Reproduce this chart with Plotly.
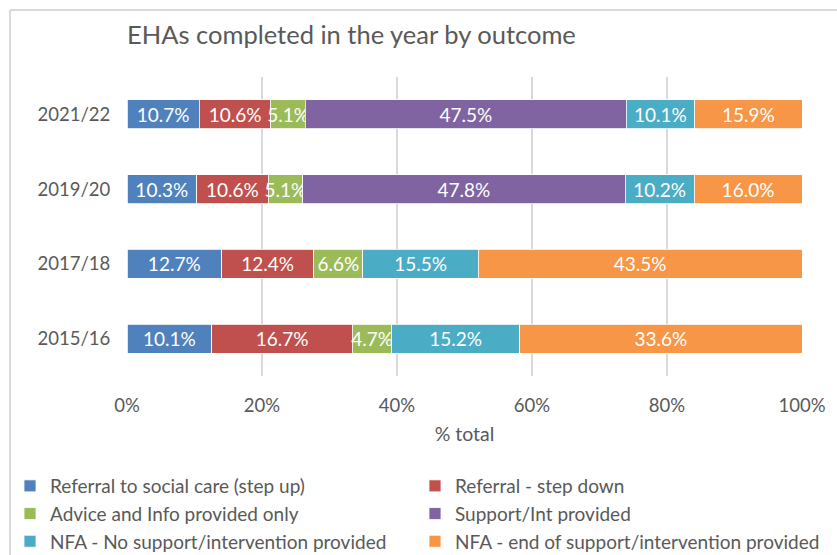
import plotly.graph_objects as go

# Survey years (bottom to top on the chart)
years = ["2015/16", "2017/18", "2019/20", "2021/22"]

# Share of completed EHAs per outcome, in %, one list per outcome (None = not recorded)
referral_social_care = [10.1, 12.7, 10.3, 10.7]
referral_step_down = [16.7, 12.4, 10.6, 10.6]
advice_info_only = [4.7, 6.6, 5.1, 5.1]
support_int_provided = [None, None, 47.8, 47.5]
nfa_no_support = [15.2, 15.5, 10.2, 10.1]
nfa_end_of_support = [33.6, 43.5, 16.0, 15.9]

series_names = [
    "Referral to social care (step up)",
    "Referral - step down",
    "Advice and Info provided only",
    "Support/Int provided",
    "NFA - No support/intervention provided",
    "NFA - end of support/intervention provided",
]
series_values = [
    referral_social_care,
    referral_step_down,
    advice_info_only,
    support_int_provided,
    nfa_no_support,
    nfa_end_of_support,
]
series_colors = ["#4F81BD", "#C0504D", "#9BBB59", "#8064A2", "#4BACC6", "#F79646"]
# left legend column holds the odd entries, right column the even ones
legend_slots = ["legend", "legend2", "legend", "legend2", "legend", "legend2"]

x_ticks = [0, 20, 40, 60, 80, 100]

FONT = "Lato, Roboto, sans-serif"
GREY_TEXT = "#595959"
GRID = "#D9D9D9"

W, H = 837, 555
L, R, T, B = 127, 35, 77, 179
pw, ph = W - L - R, H - T - B


def px_x(p):
    """pixel column -> paper x"""
    return (p - L) / pw


def px_y(p):
    """pixel row -> paper y"""
    return (H - B - p) / ph


fig = go.Figure()
for i, (name, vals, color) in enumerate(zip(series_names, series_values, series_colors)):
    fig.add_trace(
        go.Bar(
            name=name,
            y=years,
            x=vals,
            orientation="h",
            legend=legend_slots[i],
            legendgroup=name,
            marker=dict(color=color, line=dict(color="white", width=0.8)),
            text=[f"{v:.1f}%" if v is not None else "" for v in vals],
            texttemplate="%{text}",
            textposition="inside",
            insidetextanchor="middle",
            textangle=0,
            textfont=dict(color="white", size=19, family=FONT),
            cliponaxis=False,
            hoverinfo="skip",
        )
    )

# outer chart frame (top and left edges visible)
fig.add_shape(type="line", xref="paper", yref="paper", x0=px_x(10), x1=1.2,
              y0=px_y(10), y1=px_y(10), line=dict(color=GRID, width=2))
fig.add_shape(type="line", xref="paper", yref="paper", x0=px_x(10), x1=px_x(10),
              y0=px_y(10), y1=-0.7, line=dict(color=GRID, width=2))

legend_common = dict(
    orientation="v",
    traceorder="normal",
    xanchor="left",
    yanchor="top",
    y=px_y(467),
    font=dict(size=19, color=GREY_TEXT, family=FONT),
    itemwidth=30,
    tracegroupgap=1,
    bgcolor="rgba(0,0,0,0)",
)

fig.update_layout(
    width=W,
    height=H,
    margin=dict(l=L, r=R, t=T, b=B, autoexpand=False),
    paper_bgcolor="white",
    plot_bgcolor="white",
    barmode="stack",
    barnorm="percent",
    bargap=0.613,
    font=dict(family=FONT, color=GREY_TEXT, size=18.5),
    uniformtext=dict(minsize=19, mode="show"),
    title=dict(
        text="EHAs completed in the year by outcome",
        font=dict(size=25.5, color=GREY_TEXT, family=FONT),
        x=127 / W,
        xanchor="left",
        xref="container",
        y=1 - 35 / H,
        yanchor="middle",
        yref="container",
    ),
    xaxis=dict(
        range=[0, 100],
        tickvals=x_ticks,
        ticktext=[f"{t}%" for t in x_ticks],
        showgrid=True,
        gridcolor=GRID,
        gridwidth=2,
        zeroline=False,
        ticks="outside",
        ticklen=13,
        tickcolor="rgba(0,0,0,0)",
        tickfont=dict(size=18.5, color=GREY_TEXT),
        title=dict(text="% total", font=dict(size=19.5, color=GREY_TEXT), standoff=12),
        automargin=False,
        fixedrange=True,
    ),
    yaxis=dict(
        categoryorder="array",
        categoryarray=years,
        showgrid=False,
        zeroline=False,
        ticks="outside",
        ticklen=12,
        tickcolor="rgba(0,0,0,0)",
        tickfont=dict(size=18.5, color=GREY_TEXT),
        automargin=False,
        fixedrange=True,
    ),
    legend=dict(legend_common, x=px_x(10)),
    legend2=dict(legend_common, x=px_x(415)),
)

fig.write_html("out.html")
